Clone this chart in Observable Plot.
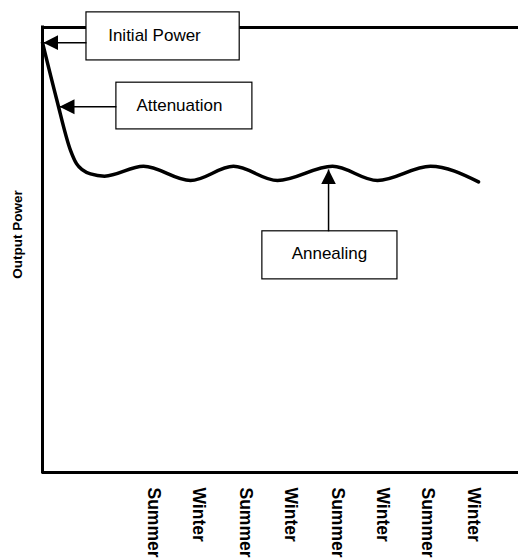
<!DOCTYPE html>
<html>
<head>
<meta charset="utf-8">
<script src="https://cdn.jsdelivr.net/npm/d3@7"></script>
<script src="https://cdn.jsdelivr.net/npm/@observablehq/plot@0.6"></script>
<style>
  html, body { margin: 0; padding: 0; background: #fff; }
  #chart { width: 518px; height: 559px; overflow: hidden; }
</style>
</head>
<body>
<div id="chart"></div>
<script>
// Season positions (x in half-year units) and tick labels
const tickPos = [2.45, 3.45, 4.47, 5.47, 6.5, 7.5, 8.5, 9.5];
const tickLabels = ["Summer", "Winter", "Summer", "Winter", "Summer", "Winter", "Summer", "Winter"];

// Output power curve (schematic, relative units)
const curveX = [0, 0.309, 0.618, 0.75, 0.882, 1.059, 1.368, 2.228, 3.265, 4.213, 5.184, 6.397, 7.39, 8.559, 9.618];
const curveY = [96.6, 84.0, 72.4, 69.4, 68.0, 67.1, 66.6, 68.8, 65.6, 68.8, 65.6, 68.8, 65.6, 68.8, 65.3];

// Annotations
const annLabels = ["Initial Power", "Attenuation", "Annealing"];
const annBoxX1 = [0.97, 1.63, 4.85];
const annBoxX2 = [4.35, 4.63, 7.83];
const annBoxY1 = [103.4, 87.6, 54.2];
const annBoxY2 = [92.6, 77.1, 43.4];
const annTextX = [2.47, 3.02, 6.33];
const annTextY = [98.2, 82.5, 49.2];
const arrowFromX = [0.97, 1.63, 6.31];
const arrowFromY = [96.6, 82.2, 54.2];
const arrowToX = [0.02, 0.375, 6.31];
const arrowToY = [96.6, 82.2, 68.1];

const curve = curveX.map((x, i) => ({x, y: curveY[i]}));
const ticks = tickPos.map((x, i) => ({x, label: tickLabels[i]}));
const ann = annLabels.map((label, i) => ({
  label,
  bx1: annBoxX1[i], bx2: annBoxX2[i], by1: annBoxY1[i], by2: annBoxY2[i],
  tx: annTextX[i], ty: annTextY[i],
  fx: arrowFromX[i], fy: arrowFromY[i], ax: arrowToX[i], ay: arrowToY[i]
}));

function filledArrow(color, context) {
  const m = d3.create("svg:marker")
    .attr("viewBox", "-15 -8 15 16")
    .attr("markerWidth", 15)
    .attr("markerHeight", 16)
    .attr("markerUnits", "userSpaceOnUse")
    .attr("orient", "auto")
    .attr("refX", 0)
    .attr("refY", 0)
    .attr("fill", "black")
    .attr("stroke", "none");
  m.append("path").attr("d", "M0,0L-15,-7.5L-15,7.5Z");
  return m.node();
}

const font = "'Liberation Sans', Arial, Helvetica, sans-serif";

const chart = Plot.plot({
  width: 518,
  height: 559,
  marginLeft: 42,
  marginRight: 0,
  marginTop: 27,
  marginBottom: 87,
  x: {domain: [0, 10.5], axis: null},
  y: {domain: [0, 100], axis: null},
  style: {fontFamily: font, background: "white", overflow: "visible"},
  marks: [
    Plot.ruleY([0, 100], {stroke: "black", strokeWidth: 3}),
    Plot.ruleX([0], {y1: 0, y2: 100, stroke: "black", strokeWidth: 3, strokeLinecap: "square"}),
    Plot.line(curve, {x: "x", y: "y", curve: "monotone-x", stroke: "black", strokeWidth: 3.5}),
    Plot.rect(ann, {x1: "bx1", x2: "bx2", y1: "by1", y2: "by2", fill: "white", stroke: "black", strokeWidth: 1.2}),
    Plot.link(ann, {x1: "fx", y1: "fy", x2: "ax", y2: "ay", stroke: "black", strokeWidth: 1.5, markerEnd: filledArrow}),
    Plot.text(ann, {x: "tx", y: "ty", text: "label", fontSize: 17, fill: "black", lineAnchor: "middle"}),
    Plot.text(ticks, {x: "x", frameAnchor: "bottom", dy: 15, text: "label", rotate: 90, textAnchor: "start", lineAnchor: "middle", fontSize: 17.5, fontWeight: "bold", fill: "black"}),
    Plot.text(["Output Power"], {x: 0, y: 53.5, dx: -25, text: d => d, rotate: -90, lineAnchor: "middle", fontSize: 13.5, fontWeight: "bold", fill: "black"})
  ]
});
document.getElementById("chart").appendChild(chart);
</script>
</body>
</html>
